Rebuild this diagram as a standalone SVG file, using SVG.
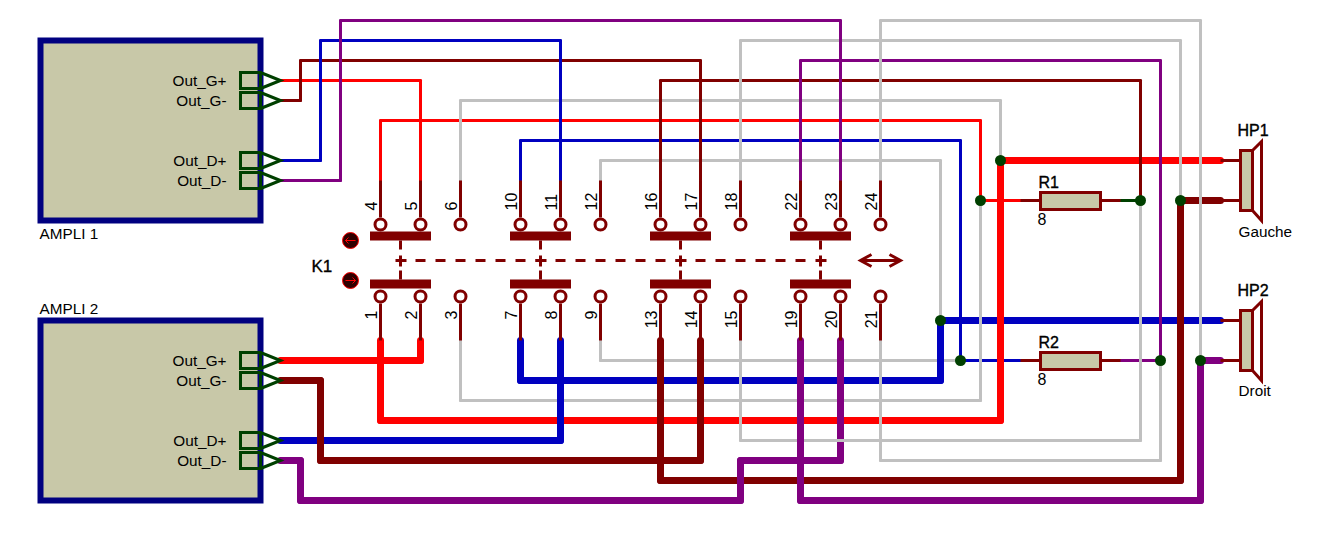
<svg xmlns="http://www.w3.org/2000/svg" xmlns:xlink="http://www.w3.org/1999/xlink" width="1320" height="540" viewBox="0 0 1320 540">
<style>
text{font-family:"Liberation Sans",Arial,sans-serif;font-size:15.300px;fill:#000}
.b{stroke:#000;stroke-width:.35px;font-size:16px}
.k{font-size:17px}
.n{font-size:16px}
.e{text-anchor:end}
.w{fill:none;stroke-linecap:round;stroke-width:3}
.t{stroke-width:7}
.red{stroke:#f00}.blu{stroke:#0000c0}.mar{stroke:#800000}.pur{stroke:#800080}.gry{stroke:#c0c0c0}.grn{stroke:#004000}
.body{fill:#c8c8a8;stroke:#000080;stroke-width:6}
.pin{fill:none;stroke:#004000;stroke-width:3}
.sym{fill:#c8c8a8;stroke:#800000;stroke-width:3}
.ln{fill:none;stroke:#800000;stroke-width:3}
.ring{fill:#fff;stroke:#800000;stroke-width:3}
.bar{fill:#800000}
.dot{fill:#004000}
.ind{fill:#300000;stroke:#f00;stroke-width:1}
.arr{fill:none;stroke:#f00;stroke-width:1}
</style>
<defs>
<g id="port"><path class="pin" d="M-20-8H-40V8H-20ZM-20-8L0 0L-20 8"/></g>
<g id="top"><path class="ln" d="M0-44V-7"/><circle class="ring" cy="0" r="5.5"/></g>
<g id="bot"><path class="ln" d="M0 44V7"/><circle class="ring" cy="0" r="5.5"/></g>
<g id="gang"><rect class="bar" x="-30.500" y="-29" width="61" height="9"/><rect class="bar" x="-30.500" y="19" width="61" height="9"/><path class="ln" d="M0-20V-11M0 10V19M-5 0H6M0-5V6"/></g>
</defs>
<g transform="translate(.5 .5)">
<g id="connectors">
<g id="horizontal-runs">
<path class="w red" d="M280 80H420"/>
<path class="w mar" d="M280 100H300M300 60H700"/>
<path class="w blu" d="M280 160H320M320 40H560"/>
<path class="w pur" d="M280 180H340M340 20H840"/>
<path class="w red" d="M380 120H980M980 200H1020"/>
<path class="w gry" d="M460 100H1000"/>
<path class="w blu" d="M520 140H960M960 360H1020"/>
<path class="w gry" d="M600 160H940"/>
<path class="w mar" d="M660 80H1140"/>
<path class="w pur" d="M800 60H1160M1120 360H1160"/>
<path class="w gry" d="M740 40H1180"/>
<path class="w gry" d="M880 20H1200"/>
<path class="w grn" d="M1120 200H1140"/>
<path class="w t red" d="M280 360H420"/>
<path class="w t red" d="M380 420H1000M1000 160H1220"/>
<path class="w gry" d="M460 400H980"/>
<path class="w t blu" d="M520 380H940M940 320H1220"/>
<path class="w t blu" d="M280 440H560"/>
<path class="w gry" d="M600 360H960"/>
<path class="w t mar" d="M660 480H1180M1180 200H1220"/>
<path class="w t mar" d="M280 380H320M320 460H700"/>
<path class="w gry" d="M740 440H1140"/>
<path class="w t pur" d="M800 500H1200M1200 360H1220"/>
<path class="w t pur" d="M280 460H300M300 500H740M740 460H840"/>
<path class="w gry" d="M880 460H1160"/>
</g>
<g id="vertical-runs">
<path class="w red" d="M420 80V180"/>
<path class="w mar" d="M300 100V60M700 60V180"/>
<path class="w blu" d="M320 160V40M560 40V180"/>
<path class="w pur" d="M340 180V20M840 20V180"/>
<path class="w red" d="M380 180V120M980 120V200"/>
<path class="w gry" d="M460 180V100M1000 100V160"/>
<path class="w blu" d="M520 180V140M960 140V360"/>
<path class="w gry" d="M600 180V160M940 160V320"/>
<path class="w mar" d="M660 180V80M1140 80V200"/>
<path class="w pur" d="M800 180V60M1160 60V360"/>
<path class="w gry" d="M740 180V40M1180 40V200"/>
<path class="w gry" d="M880 180V20M1200 20V360"/>
<path class="w t red" d="M420 360V340"/>
<path class="w t red" d="M380 340V420M1000 420V160"/>
<path class="w gry" d="M460 340V400M980 400V200"/>
<path class="w t blu" d="M520 340V380M940 380V320"/>
<path class="w t blu" d="M560 340V440"/>
<path class="w gry" d="M600 340V360"/>
<path class="w t mar" d="M660 340V480M1180 480V200"/>
<path class="w t mar" d="M700 340V460M320 460V380"/>
<path class="w gry" d="M740 340V440M1140 440V200"/>
<path class="w t pur" d="M800 340V500M1200 500V360"/>
<path class="w t pur" d="M840 340V460M740 460V500M300 500V460"/>
<path class="w gry" d="M880 340V460M1160 460V360"/>
<path class="w gry" d="M835 440H845"/>
</g>
</g>
<g id="junctions">
<circle class="dot" cx="1000" cy="160" r="5.500"/>
<circle class="dot" cx="980" cy="200" r="5.500"/>
<circle class="dot" cx="1140" cy="200" r="5.500"/>
<circle class="dot" cx="1180" cy="200" r="5.500"/>
<circle class="dot" cx="940" cy="320" r="5.500"/>
<circle class="dot" cx="960" cy="360" r="5.500"/>
<circle class="dot" cx="1160" cy="360" r="5.500"/>
<circle class="dot" cx="1200" cy="360" r="5.500"/>
</g>
<g id="amp1">
<rect class="body" x="40" y="40" width="220" height="180"/>
<use xlink:href="#port" href="#port" x="280" y="80"/><use xlink:href="#port" href="#port" x="280" y="100"/><use xlink:href="#port" href="#port" x="280" y="160"/><use xlink:href="#port" href="#port" x="280" y="180"/>
<text class="e" x="226" y="85">Out_G+</text><text class="e" x="226" y="105">Out_G-</text><text class="e" x="226" y="165">Out_D+</text><text class="e" x="226" y="185">Out_D-</text>
<text x="39" y="238">AMPLI 1</text>
</g>
<g id="amp2">
<rect class="body" x="40" y="320" width="220" height="180"/>
<use xlink:href="#port" href="#port" x="280" y="360"/><use xlink:href="#port" href="#port" x="280" y="380"/><use xlink:href="#port" href="#port" x="280" y="440"/><use xlink:href="#port" href="#port" x="280" y="460"/>
<text class="e" x="226" y="365">Out_G+</text><text class="e" x="226" y="385">Out_G-</text><text class="e" x="226" y="445">Out_D+</text><text class="e" x="226" y="465">Out_D-</text>
<text x="39" y="313">AMPLI 2</text>
</g>
<g id="k1">
<text class="b k" x="311" y="271">K1</text>
<circle class="ind" cx="350" cy="240" r="8"/><path class="arr" d="M355 240H345M348 237L345 240L348 243"/>
<circle class="ind" cx="350" cy="280" r="8"/><path class="arr" d="M345 280H355M352 277L355 280L352 283"/>
<use xlink:href="#gang" href="#gang" x="400" y="260"/><use xlink:href="#gang" href="#gang" x="540" y="260"/><use xlink:href="#gang" href="#gang" x="680" y="260"/><use xlink:href="#gang" href="#gang" x="820" y="260"/>
<path class="ln" stroke-dasharray="10 10" d="M415 260H805"/>
<path class="ln" d="M860 260H900M871 254L860 260L871 266M889 254L900 260L889 266"/>
<use xlink:href="#top" href="#top" x="380" y="224"/><use xlink:href="#top" href="#top" x="420" y="224"/><use xlink:href="#top" href="#top" x="460" y="224"/><use xlink:href="#top" href="#top" x="520" y="224"/><use xlink:href="#top" href="#top" x="560" y="224"/><use xlink:href="#top" href="#top" x="600" y="224"/><use xlink:href="#top" href="#top" x="660" y="224"/><use xlink:href="#top" href="#top" x="700" y="224"/><use xlink:href="#top" href="#top" x="740" y="224"/><use xlink:href="#top" href="#top" x="800" y="224"/><use xlink:href="#top" href="#top" x="840" y="224"/><use xlink:href="#top" href="#top" x="880" y="224"/>
<use xlink:href="#bot" href="#bot" x="380" y="296"/><use xlink:href="#bot" href="#bot" x="420" y="296"/><use xlink:href="#bot" href="#bot" x="460" y="296"/><use xlink:href="#bot" href="#bot" x="520" y="296"/><use xlink:href="#bot" href="#bot" x="560" y="296"/><use xlink:href="#bot" href="#bot" x="600" y="296"/><use xlink:href="#bot" href="#bot" x="660" y="296"/><use xlink:href="#bot" href="#bot" x="700" y="296"/><use xlink:href="#bot" href="#bot" x="740" y="296"/><use xlink:href="#bot" href="#bot" x="800" y="296"/><use xlink:href="#bot" href="#bot" x="840" y="296"/><use xlink:href="#bot" href="#bot" x="880" y="296"/>
<g class="nums">
<text class="n" transform="translate(376 210) rotate(-90)">4</text><text class="n" transform="translate(416 210) rotate(-90)">5</text><text class="n" transform="translate(456 210) rotate(-90)">6</text>
<text class="n" transform="translate(516 210) rotate(-90)">10</text><text class="n" transform="translate(556 210) rotate(-90)">11</text><text class="n" transform="translate(596 210) rotate(-90)">12</text>
<text class="n" transform="translate(656 210) rotate(-90)">16</text><text class="n" transform="translate(696 210) rotate(-90)">17</text><text class="n" transform="translate(736 210) rotate(-90)">18</text>
<text class="n" transform="translate(796 210) rotate(-90)">22</text><text class="n" transform="translate(836 210) rotate(-90)">23</text><text class="n" transform="translate(876 210) rotate(-90)">24</text>
<text class="n e" transform="translate(376 310) rotate(-90)">1</text><text class="n e" transform="translate(416 310) rotate(-90)">2</text><text class="n e" transform="translate(456 310) rotate(-90)">3</text>
<text class="n e" transform="translate(516 310) rotate(-90)">7</text><text class="n e" transform="translate(556 310) rotate(-90)">8</text><text class="n e" transform="translate(596 310) rotate(-90)">9</text>
<text class="n e" transform="translate(656 310) rotate(-90)">13</text><text class="n e" transform="translate(696 310) rotate(-90)">14</text><text class="n e" transform="translate(736 310) rotate(-90)">15</text>
<text class="n e" transform="translate(796 310) rotate(-90)">19</text><text class="n e" transform="translate(836 310) rotate(-90)">20</text><text class="n e" transform="translate(876 310) rotate(-90)">21</text>
</g>
</g>
<g id="r1">
<path class="ln" d="M1020 200H1040M1100 200H1120"/>
<rect class="sym" x="1040" y="192" width="60" height="17"/>
<text class="b" x="1038" y="187">R1</text><text class="n" x="1037" y="224">8</text>
</g>
<g id="r2">
<path class="ln" d="M1020 360H1040M1100 360H1120"/>
<rect class="sym" x="1040" y="352" width="60" height="17"/>
<text class="b" x="1038" y="347">R2</text><text class="n" x="1037" y="384">8</text>
</g>
<g id="hp1">
<path class="ln" d="M1220 160H1240M1220 200H1240M1252 150L1261 141V220L1252 210"/>
<rect class="sym" x="1240" y="150" width="12" height="60"/>
<text class="b" x="1237" y="135">HP1</text><text x="1238" y="236">Gauche</text>
</g>
<g id="hp2">
<path class="ln" d="M1220 320H1240M1220 360H1240M1252 310L1261 301V380L1252 370"/>
<rect class="sym" x="1240" y="310" width="12" height="60"/>
<text class="b" x="1237" y="295">HP2</text><text x="1238" y="395">Droit</text>
</g>
</g>
</svg>
